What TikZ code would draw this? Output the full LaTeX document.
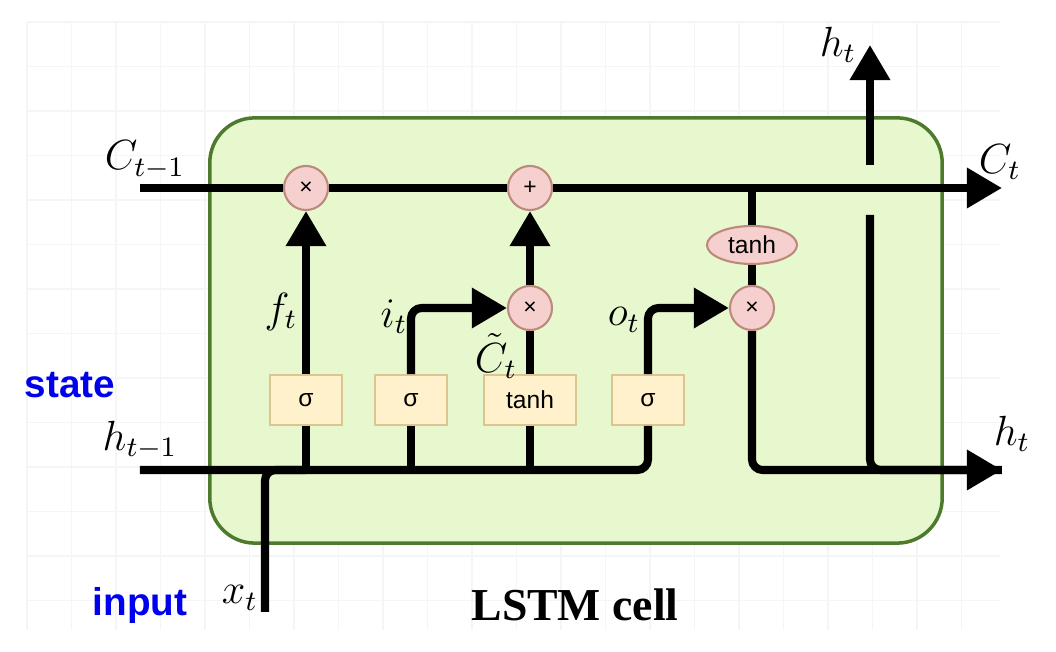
\documentclass[tikz,border=0pt]{standalone}
\usepackage{fontspec}
\newfontfamily\labfont{Liberation Sans}
\newfontfamily\capfont{Liberation Serif}
\usetikzlibrary{arrows.meta,shapes.geometric}
\definecolor{cellfill}{HTML}{E7F8CE}
\definecolor{celledge}{HTML}{4E7A2E}
\definecolor{opfill}{HTML}{F6D0CF}
\definecolor{opedge}{HTML}{BC8A7C}
\definecolor{gatefill}{HTML}{FFF1CC}
\definecolor{gateedge}{HTML}{DCC58E}
\definecolor{noteblue}{HTML}{0000EE}
\begin{document}
\begin{tikzpicture}[x=0.01cm, y=-0.01cm,
    every node/.style={inner sep=0pt},
    flow/.style={line width=2.3pt, line join=round},
    tip/.style={-{Triangle[length=10pt,width=11pt]}},
    elbow/.style={rounded corners=3pt},
    op/.style={circle, draw=opedge, fill=opfill, line width=0.6pt, minimum size=0.44cm, font=\labfont\fontsize{6.5}{7}\selectfont},
    gate/.style={draw=gateedge, fill=gatefill, line width=0.5pt, minimum width=0.72cm, minimum height=0.5cm, font=\labfont\fontsize{7}{8}\selectfont},
    lbl/.style={font=\fontsize{12}{14}\selectfont},
    note/.style={text=noteblue, font=\labfont\bfseries\fontsize{11}{13}\selectfont}]
    \useasboundingbox (0,0) rectangle (1056,652);
    \foreach \gx in {27,71.5,...,1000}
        \draw[black!4] (\gx,22) -- (\gx,630);
    \foreach \gy in {22,66.5,...,630}
        \draw[black!4] (27,\gy) -- (1000,\gy);
    \node[draw=celledge, fill=cellfill, line width=1pt, rounded corners=0.45cm,
          minimum width=7.32cm, minimum height=4.25cm] (cell) at (576,330.5) {};
    \node[op] (fx) at (306,188) {×};
    \node[op] (add) at (530,188) {+};
    \node[op] (ix) at (530,308) {×};
    \node[op] (ox) at (752,308) {×};
    \node[op, ellipse, minimum width=0.9cm, minimum height=0.38cm, font=\labfont\fontsize{7}{8}\selectfont] (th) at (752,245) {tanh};
    \node[gate] (fg) at (306,400) {σ};
    \node[gate] (ig) at (411,400) {σ};
    \node[gate, minimum width=0.92cm] (cg) at (530,400) {tanh};
    \node[gate] (og) at (648,400) {σ};
    \coordinate (cin) at (140,188);
    \coordinate (cout) at (1002,188);
    \coordinate (hin) at (140,470);
    \coordinate (hout) at (1002,470);
    \coordinate (xin) at (265,612);
    \coordinate (hlow) at (870,215);
    \coordinate (hhigh) at (870,165);
    \coordinate (hup) at (870,45);
    \draw[flow] (cin) -- (fx) (fx) -- (add);
    \draw[flow, tip] (add) -- (cout);
    \draw[flow, elbow] (hin) -- (og |- hin) -- (og);
    \draw[flow, elbow] (xin) |- (fg |- hin);
    \foreach \g in {fg,ig,cg}
        \draw[flow] (\g |- hin) -- (\g);
    \draw[flow, tip] (fg) -- (fx);
    \draw[flow, tip, elbow] (ig) |- (ix);
    \draw[flow] (cg) -- (ix);
    \draw[flow, tip] (ix) -- (add);
    \draw[flow, tip, elbow] (og) |- (ox);
    \draw[flow] (th |- cin) -- (th) (th) -- (ox);
    \draw[flow, tip, elbow] (ox) |- (hout);
    \draw[flow, elbow] (hlow) |- (hout);
    \draw[flow, tip] (hhigh) -- (hup);
    \node[lbl] (lc0) at (145,160) {$C_{t-1}$};
    \node[lbl] (lc1) at (1000,162) {$C_t$};
    \node[lbl] (lhu) at (838,45) {$h_t$};
    \node[lbl] (lh0) at (140,440) {$h_{t-1}$};
    \node[lbl] (lh1) at (1012,434) {$h_t$};
    \node[lbl] (lx) at (240,598) {$x_t$};
    \node[lbl] (lf) at (281,312) {$f_t$};
    \node[lbl] (li) at (394,317) {$i_t$};
    \node[lbl] (lct) at (496,356) {$\tilde{C}_t$};
    \node[lbl] (lo) at (624,320) {$o_t$};
    \node[note] (st) at (70,385) {state};
    \node[note] (inp) at (140,606) {input};
    \node[font=\capfont\bfseries\fontsize{13}{15}\selectfont] (cap) at (575,605) {LSTM cell};
\end{tikzpicture}
\end{document}
